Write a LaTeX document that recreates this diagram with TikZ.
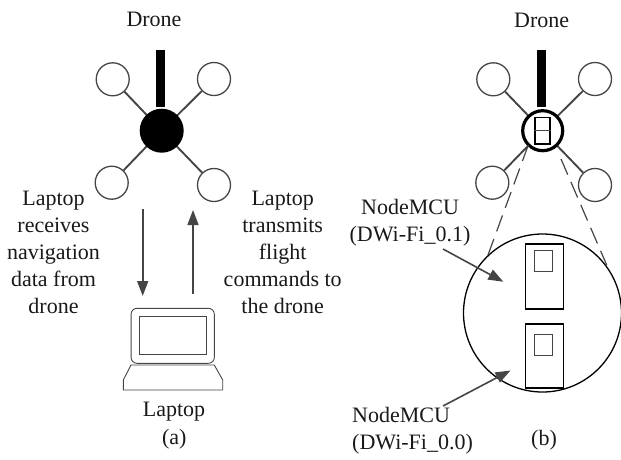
\documentclass[tikz,border=0pt]{standalone}
\usepackage{fontspec}
\setmainfont{Liberation Serif}
\usetikzlibrary{arrows.meta}
\definecolor{ln}{gray}{0.27}
\tikzset{
  x=1pt,y=-1pt,
  rotor/.style={circle,draw=ln,line width=1.3pt,fill=white,minimum size=33pt,inner sep=0pt},
  arm/.style={draw=ln,line width=1.9pt},
  mast/.style={fill=black,draw=none,minimum width=8.4pt,minimum height=57pt,inner sep=0pt},
  lbl/.style={font=\fontsize{22}{27}\selectfont,align=center,inner sep=0pt,text=black!90},
  flow/.style={draw=ln,line width=1.6pt,-{Triangle[length=15pt,width=11pt]}},
  leader/.style={draw=ln,line width=1.6pt,-{Triangle[length=15pt,width=11pt]}},
  zoomline/.style={draw=ln,line width=1.2pt,dash pattern=on 17pt off 8pt},
  chip/.style={draw=black,line width=1.4pt,fill=white,minimum width=38pt,inner sep=0pt},
  pad/.style={draw=ln,line width=.7pt,minimum width=18pt,minimum height=21pt,inner sep=0pt,fill=white},
}
\begin{document}
\begin{tikzpicture}
\useasboundingbox (0,0) rectangle (621,459);
% left drone
\coordinate (hubA) at (161.7,130.7);
\node[rotor] (a1) at (112.7,79.3) {};
\node[rotor] (a2) at (214,79) {};
\node[rotor] (a3) at (111.7,182.7) {};
\node[rotor] (a4) at (214,185) {};
\draw[arm] (hubA) -- (a1); \draw[arm] (hubA) -- (a2); \draw[arm] (hubA) -- (a3); \draw[arm] (hubA) -- (a4);
\node[mast] (ma) at (160.5,78.5) {};
\node[circle,fill=black,minimum size=44pt,inner sep=0pt] (ha) at (hubA) {};
% right drone
\coordinate (hubB) at (542.7,130.7);
\node[rotor] (b1) at (493.3,79.3) {};
\node[rotor] (b2) at (595,79) {};
\node[rotor] (b3) at (492.3,182.7) {};
\node[rotor] (b4) at (595,185) {};
\draw[arm] (hubB) -- (b1); \draw[arm] (hubB) -- (b2); \draw[arm] (hubB) -- (b3); \draw[arm] (hubB) -- (b4);
\node[mast] (mb) at (541.5,78.5) {};
\node[circle,draw=black,line width=3.2pt,fill=white,minimum size=40pt,inner sep=0pt] (hb) at (hubB) {};
\node[draw=black,line width=1.6pt,minimum width=15pt,minimum height=26.5pt,inner sep=0pt] (cb) at (542.4,130.7) {};
\draw[ln,line width=.8pt] (cb.west) -- (cb.east);
% magnifier
\node[circle,draw=black,line width=1.3pt,minimum size=158pt,inner sep=0pt] (big) at (542.5,313) {};
\coordinate (z1a) at (528.3,145); \coordinate (z1b) at (488,255);
\coordinate (z2a) at (561,159); \coordinate (z2b) at (606.7,265);
\draw[zoomline] (z1a) -- (z1b);
\draw[zoomline] (z2a) -- (z2b);
\node[chip,minimum height=65pt] (c1) at (544.2,276.5) {};
\node[pad] (p1) at (543.5,260.8) {};
\node[chip,minimum height=64pt] (c0) at (544.2,356) {};
\node[pad] (p0) at (543.5,345.3) {};
% laptop
\node[draw=ln,line width=.9pt,rounded corners=6pt,minimum width=83.3pt,minimum height=55pt,inner sep=0pt] (lid) at (172.7,335.8) {};
\node[draw=ln,line width=.9pt,minimum width=67.7pt,minimum height=37.3pt,inner sep=0pt] (scr) at (172.9,335.4) {};
\coordinate (k1) at (131,365); \coordinate (k2) at (123.3,380); \coordinate (k3) at (123.3,390);
\coordinate (k4) at (222.7,390); \coordinate (k5) at (222.7,380); \coordinate (k6) at (214.3,365);
\draw[ln,line width=.9pt] (k1) -- (k2) -- (k3) -- (k4) -- (k5) -- (k6) -- cycle;
% arrows
\coordinate (d1) at (142.7,209); \coordinate (d2) at (142.7,296);
\coordinate (u1) at (193,294); \coordinate (u2) at (193,210);
\draw[flow] (d1) -- (d2);
\draw[flow] (u1) -- (u2);
% labels
\node[lbl] (t1) at (154,19) {Drone};
\node[lbl] (t2) at (541.7,20) {Drone};
\node[lbl] (t3) at (53.5,252) {Laptop\\receives\\navigation\\data from\\drone};
\node[lbl] (t4) at (282.7,252) {Laptop\\transmits\\flight\\commands to\\the drone};
\node[lbl] (t5) at (174,412) {Laptop};
\node[lbl] (t6) at (174.3,439) {(a)};
\node[lbl] (t7) at (544,440.5) {(b)};
\node[lbl] (t8) at (410,223) {NodeMCU\\(DWi-Fi\_0.1)};
\node[lbl,align=left,anchor=west] (t9) at (352,431) {NodeMCU\\(DWi-Fi\_0.0)};
\coordinate (l1s) at (443,249); \coordinate (l1e) at (503.3,281.7);
\coordinate (l0s) at (443,406); \coordinate (l0e) at (510.5,370.5);
\draw[leader] (l1s) -- (l1e);
\draw[leader] (l0s) -- (l0e);
\end{tikzpicture}
\end{document}
